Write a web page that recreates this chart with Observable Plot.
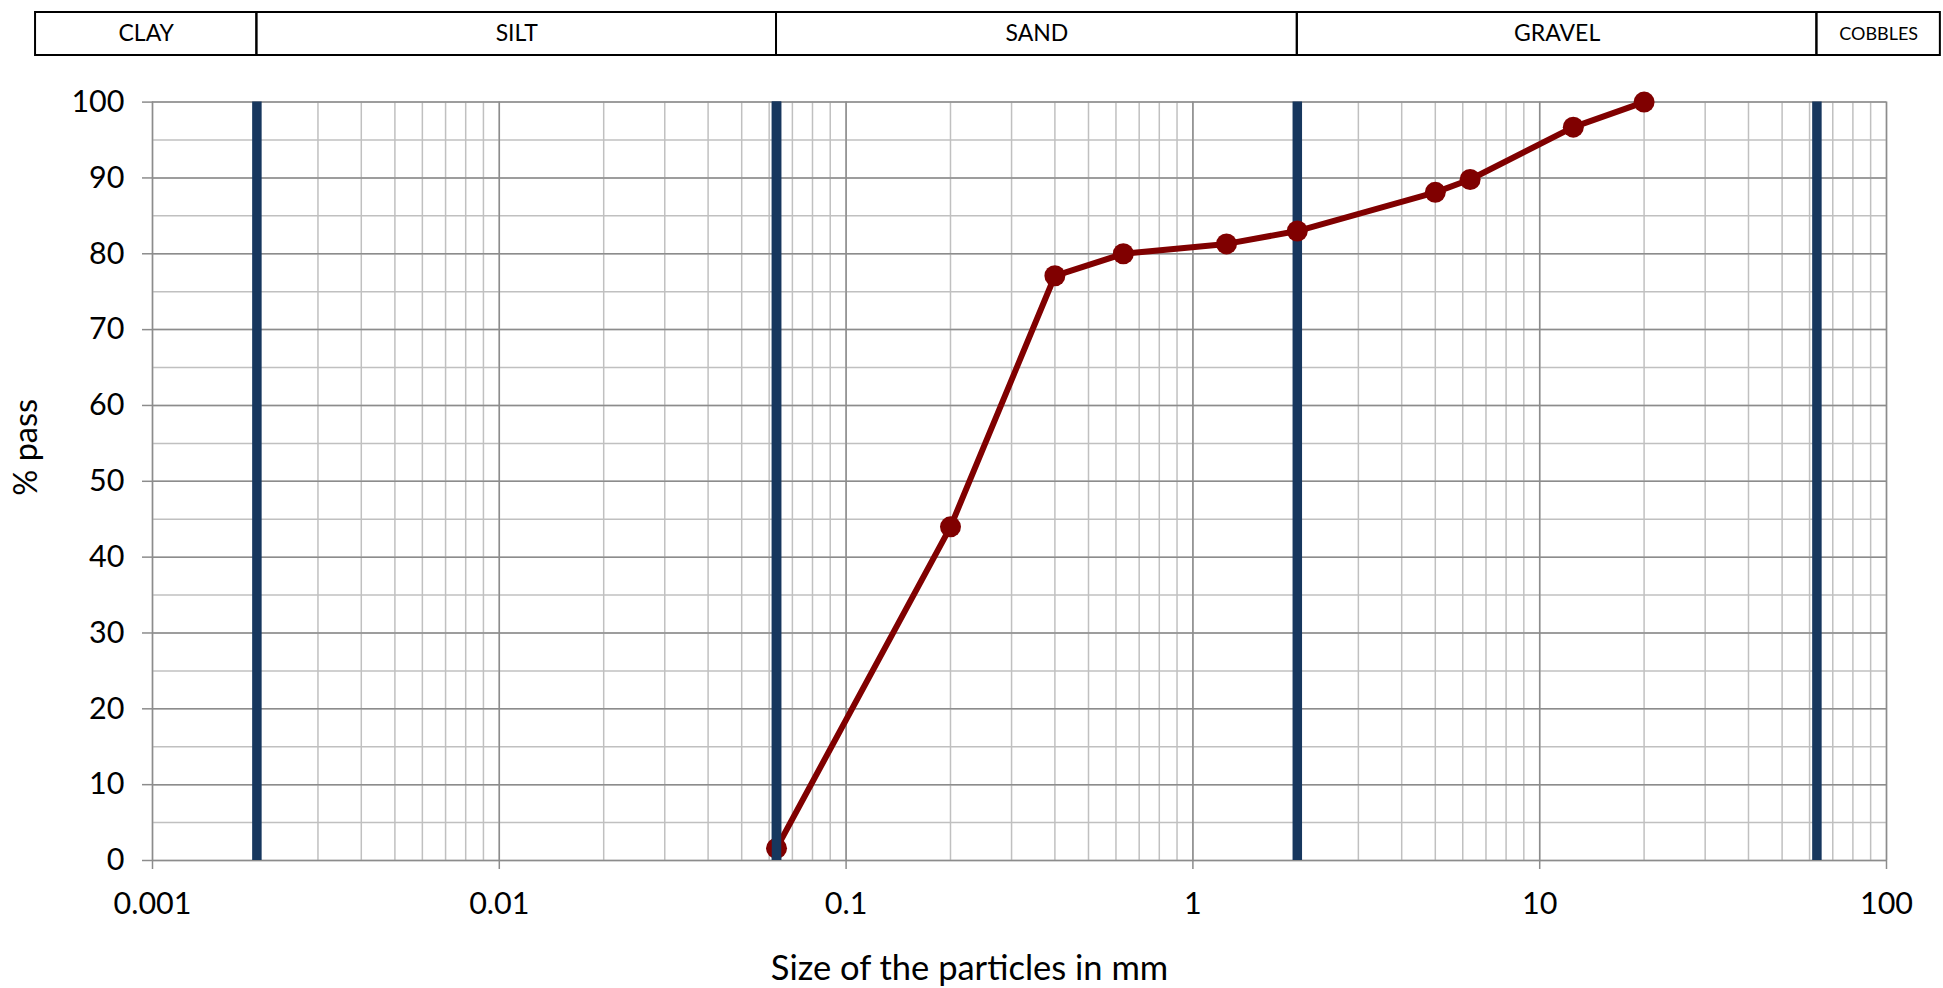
<!DOCTYPE html>
<html>
<head>
<meta charset="utf-8">
<script src="https://cdn.jsdelivr.net/npm/d3@7"></script>
<script src="https://cdn.jsdelivr.net/npm/@observablehq/plot@0.6"></script>
<style>
  html, body { margin: 0; padding: 0; background: white; overflow: hidden; }
  #chart svg { display: block; }
</style>
</head>
<body>
<div id="chart"></div>
<script>
// ---- data ----
const sieveSizes = [0.063, 0.2, 0.4, 0.63, 1.25, 2, 5, 6.3, 12.5, 20];
const percentPassing = [1.6, 44.0, 77.1, 80.0, 81.3, 83.0, 88.1, 89.8, 96.7, 100];
const classLimits = [0.002, 0.063, 2, 63];
const soilClasses = ["CLAY", "SILT", "SAND", "GRAVEL", "COBBLES"];
const headerEdges = [0.00046, 0.002, 0.063, 2, 63, 143];
const xTickLabels = [0.001, 0.01, 0.1, 1, 10, 100];
const yTickLabels = [0, 10, 20, 30, 40, 50, 60, 70, 80, 90, 100];
const xTitle = "Size of the particles in mm";
const yTitle = "% pass";

const curve = sieveSizes.map((s, i) => ({size: s, pass: percentPassing[i]}));
const headerCells = soilClasses.map((name, i) => ({name, lo: headerEdges[i], hi: headerEdges[i + 1]}));

const font = "Lato, 'Open Sans', sans-serif";
const W = 1943, mL = 152, mR = 57;
const xScale = {type: "log", domain: [0.001, 100]};
const majorGrey = "#8c8c8c", minorGrey = "#c0c0c0", navy = "#17375E", red = "#800000";

const header = Plot.plot({
  width: W, height: 56, marginTop: 12, marginBottom: 1, marginLeft: mL, marginRight: mR,
  x: {...xScale, axis: null},
  style: {fontFamily: font, background: "white", color: "black"},
  marks: [
    Plot.rect(headerCells, {x1: "lo", x2: "hi", fill: "none", stroke: "black", strokeWidth: 2}),
    Plot.text(headerCells, {
      x: d => Math.sqrt(d.lo * d.hi), text: "name", frameAnchor: "middle",
      fontSize: d => d.name === "COBBLES" ? 18 : 23, fill: "black"
    })
  ]
});

const main = Plot.plot({
  width: W, height: 932, marginTop: 45.6, marginBottom: 128, marginLeft: mL, marginRight: mR,
  x: xScale,
  y: {domain: [0, 100]},
  style: {fontFamily: font, fontSize: "30.5px", background: "white", color: "black"},
  marks: [
    Plot.gridX({ticks: 40, stroke: minorGrey, strokeOpacity: 1, strokeWidth: 1.5}),
    Plot.gridY({ticks: 20, stroke: minorGrey, strokeOpacity: 1, strokeWidth: 1.5}),
    Plot.gridX(xTickLabels, {stroke: majorGrey, strokeOpacity: 1, strokeWidth: 1.5}),
    Plot.gridY(yTickLabels, {stroke: majorGrey, strokeOpacity: 1, strokeWidth: 1.5}),
    Plot.axisY(yTickLabels, {tickSize: 10, tickFormat: () => "", stroke: majorGrey, strokeWidth: 1.5, label: null}),
    Plot.axisY(yTickLabels, {tickSize: 0, tickPadding: 28, label: null, color: "black", fontSize: 30.5}),
    Plot.axisX(xTickLabels, {tickSize: 9, tickFormat: () => "", stroke: majorGrey, strokeWidth: 1.5, label: null}),
    Plot.axisX(xTickLabels, {tickSize: 0, tickPadding: 32, tickFormat: d => String(d), label: null, color: "black", fontSize: 30.5}),
    Plot.ruleX(classLimits, {stroke: navy, strokeWidth: 9.5}),
    Plot.line(curve, {x: "size", y: "pass", stroke: red, strokeWidth: 6}),
    Plot.dot(curve, {x: "size", y: "pass", r: 10.5, fill: red, stroke: "none"}),
    Plot.ruleX(classLimits, {filter: d => d === classLimits[1], stroke: navy, strokeWidth: 9.5}),
    Plot.text([yTitle], {frameAnchor: "left", dx: -126, dy: -34, rotate: -90, textAnchor: "middle", lineAnchor: "middle", fontSize: 32.5, fill: "black"}),
    Plot.text([xTitle], {frameAnchor: "bottom", dx: -50, dy: 108, textAnchor: "middle", lineAnchor: "middle", fontSize: 34.5, fill: "black"})
  ]
});

const chart = document.getElementById("chart");
chart.appendChild(header);
chart.appendChild(main);
</script>
</body>
</html>
